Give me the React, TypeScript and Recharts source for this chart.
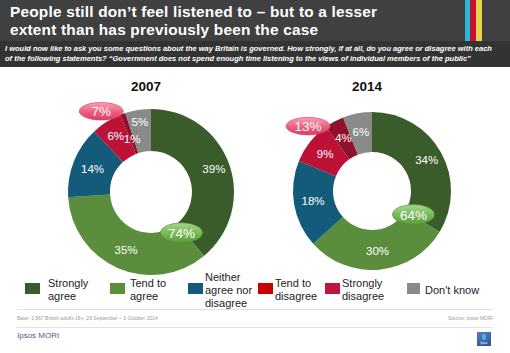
import React from 'react';
import { PieChart, Pie, Cell } from 'recharts';

const CATEGORIES = ['Strongly agree', 'Tend to agree', 'Neither agree nor disagree', 'Tend to disagree', 'Strongly disagree', "Don't know"];
const LEGEND_LABELS = [['Strongly', 'agree'], ['Tend to', 'agree'], ['Neither', 'agree nor', 'disagree'], ['Tend to', 'disagree'], ['Strongly', 'disagree'], ["Don't know"]];
const VALUES_2007 = [39, 35, 14, 6, 1, 5];
const VALUES_2014 = [34, 30, 18, 9, 4, 6];
const YEARS = ['2007', '2014'];
const NET_AGREE = [74, 64];
const NET_DISAGREE = [7, 13];

const SLICE_COLORS = ['#3a5c2a', '#5b8e3c', '#145a7b', '#bc1238', '#8e1229', '#8a8a8a'];
const LEGEND_COLORS = ['#3a5c2a', '#5b8e3c', '#145a7b', '#c80000', '#c0143c', '#8a8a8a'];

const FONT = '"Liberation Sans", Arial, sans-serif';
const RADIAN = Math.PI / 180;

// radial nudges for labels of the thin slices so they don't collide
const pies = [
  { cx: 146, cy: 187, inner: 41, outer: 83, values: VALUES_2007, nudge: [4, 0, 0, 3, -7, 8] },
  { cx: 367, cy: 186, inner: 39, outer: 79, values: VALUES_2014, nudge: [3, 0, 0, 0, 0, 0] },
];

const toData = (vals: number[]) => CATEGORIES.map((name, i) => ({ name, value: vals[i] }));

const makeLabel = (nudge: number[]) => (p: any) => {
  const r = p.innerRadius + 0.52 * (p.outerRadius - p.innerRadius) + (nudge[p.index] || 0);
  const x = p.cx + r * Math.cos(-p.midAngle * RADIAN);
  const y = p.cy + r * Math.sin(-p.midAngle * RADIAN);
  return (
    <text x={x} y={y} fill="#fff" fontSize={11.5} fontFamily={FONT} textAnchor="middle" dominantBaseline="central">
      {p.value}%
    </text>
  );
};

// point on the ring at a given cumulative share (clockwise from 12 o'clock)
const ringPoint = (pie: any, share: number, r: number) => {
  const total = pie.values.reduce((a: number, b: number) => a + b, 0);
  const a = (share / total) * 360 * RADIAN;
  return { x: pie.cx + r * Math.sin(a), y: pie.cy - r * Math.cos(a) };
};

const Callouts = () => (
  <svg width={510} height={353} style={{ position: 'absolute', left: 0, top: 0, pointerEvents: 'none' }}>
    <defs>
      <linearGradient id="pinkG" x1="0" y1="0" x2="0" y2="1">
        <stop offset="0%" stopColor="#f7a0b4" />
        <stop offset="60%" stopColor="#ea5a7c" />
        <stop offset="100%" stopColor="#d94068" />
      </linearGradient>
      <linearGradient id="greenG" x1="0" y1="0" x2="0" y2="1">
        <stop offset="0%" stopColor="#a6d68a" />
        <stop offset="60%" stopColor="#72b452" />
        <stop offset="100%" stopColor="#5c9c40" />
      </linearGradient>
    </defs>
    {pies.map((pie, i) => {
      const v = pie.values;
      const agree = ringPoint(pie, v[0], (pie.inner + pie.outer) / 2);
      const disStart = v[0] + v[1] + v[2];
      const dis = ringPoint(pie, disStart + (v[3] + v[4]) / 2, pie.outer + 5);
      const ax = agree.x - 4;
      const ay = agree.y - 2;
      return (
        <g key={i}>
          <ellipse cx={ax} cy={ay} rx={21} ry={10} fill="url(#greenG)" stroke="#4c8a34" strokeWidth={0.6} />
          <text x={ax} y={ay + 0.5} fill="#fff" fontSize={13.5} fontFamily={FONT} textAnchor="middle" dominantBaseline="central">{NET_AGREE[i]}%</text>
          <ellipse cx={dis.x} cy={dis.y} rx={22} ry={8.8} fill="url(#pinkG)" stroke="#d03a60" strokeWidth={0.6} />
          <text x={dis.x} y={dis.y + 0.5} fill="#fff" fontSize={13.5} fontFamily={FONT} textAnchor="middle" dominantBaseline="central">{NET_DISAGREE[i]}%</text>
        </g>
      );
    })}
  </svg>
);

const legendBoxX = [25, 110, 188, 258, 325, 407];
const legendTextX = [48, 130, 205, 275, 342, 425];

export default function App() {
  return (
    <div style={{ position: 'absolute', left: 0, top: 0, width: 510, height: 353, background: '#fff', fontFamily: FONT, overflow: 'hidden' }}>
      {/* header */}
      <div style={{ position: 'absolute', left: 0, top: 0, width: 510, height: 41, background: '#404040' }} />
      <div style={{ position: 'absolute', left: 465, top: 0, width: 5, height: 41, background: '#2bb7d8' }} />
      <div style={{ position: 'absolute', left: 470, top: 0, width: 6, height: 41, background: '#c8102e' }} />
      <div style={{ position: 'absolute', left: 476, top: 0, width: 6, height: 41, background: '#e8d44a' }} />
      <div style={{ position: 'absolute', left: 10, top: 3, color: '#fff', fontWeight: 900, fontSize: 15.4, lineHeight: '18px', letterSpacing: 0.2, whiteSpace: 'nowrap' }}>
        People still don’t feel listened to – but to a lesser<br />extent than has previously been the case
      </div>
      <div style={{ position: 'absolute', left: 0, top: 41, width: 510, height: 26, background: '#333' }} />
      <div style={{ position: 'absolute', left: 5, top: 44, color: '#fff', fontWeight: 700, fontStyle: 'italic', fontSize: 7.5, lineHeight: '10px', whiteSpace: 'nowrap' }}>
        I would now like to ask you some questions about the way Britain is governed. How strongly, if at all, do you agree or disagree with each<br />
        of the following statements? “Government does not spend enough time listening to the views of individual members of the public”
      </div>

      {/* years */}
      {YEARS.map((y, i) => (
        <div key={y} style={{ position: 'absolute', left: pies[i].cx - 30, width: 60, top: 79, textAlign: 'center', fontWeight: 700, fontSize: 13.5, color: '#111' }}>{y}</div>
      ))}

      <div style={{ position: 'absolute', left: 0, top: 0 }}>
        <PieChart width={510} height={353}>
          {pies.map((pie, i) => (
            <Pie
              key={i}
              data={toData(pie.values)}
              dataKey="value"
              cx={pie.cx}
              cy={pie.cy}
              innerRadius={pie.inner}
              outerRadius={pie.outer}
              startAngle={90}
              endAngle={-270}
              stroke="none"
              labelLine={false}
              label={makeLabel(pie.nudge)}
              isAnimationActive={false}
            >
              {pie.values.map((_, j) => (
                <Cell key={j} fill={SLICE_COLORS[j]} />
              ))}
            </Pie>
          ))}
        </PieChart>
      </div>
      <Callouts />

      {/* legend */}
      {LEGEND_LABELS.map((lines, i) => (
        <div key={i}>
          <div style={{ position: 'absolute', left: legendBoxX[i], top: 283, width: i === 5 ? 13 : 15, height: 11, background: LEGEND_COLORS[i] }} />
          <div style={{ position: 'absolute', left: legendTextX[i], top: 290 - lines.length * 6.5, fontSize: 11, lineHeight: '13px', color: '#222', whiteSpace: 'nowrap' }}>
            {lines.map((l, k) => <div key={k}>{l}</div>)}
          </div>
        </div>
      ))}

      {/* footer */}
      <div style={{ position: 'absolute', left: 17, top: 309, width: 476, height: 1, background: '#e2e2e2' }} />
      <div style={{ position: 'absolute', left: 17, top: 315, fontSize: 5, color: '#999' }}>Base: 1,967 British adults 16+, 26 September – 3 October 2014</div>
      <div style={{ position: 'absolute', right: 17, top: 315, fontSize: 5, color: '#999' }}>Source: Ipsos MORI</div>
      <div style={{ position: 'absolute', left: 17, top: 327, width: 476, height: 1, background: '#e2e2e2' }} />
      <div style={{ position: 'absolute', left: 17, top: 331, fontSize: 8, color: '#4a5a8e' }}>Ipsos MORI</div>
      <div style={{ position: 'absolute', left: 477, top: 332, width: 14, height: 14, background: 'linear-gradient(160deg,#5a7cc8,#2a4f9a)' }}>
        <div style={{ position: 'absolute', left: 5, top: 2, width: 4, height: 6, borderRadius: 3, background: '#3bc0d8' }} />
        <div style={{ position: 'absolute', left: 0, top: 9, width: 14, textAlign: 'center', fontSize: 3, color: '#fff' }}>Ipsos</div>
      </div>
    </div>
  );
}
